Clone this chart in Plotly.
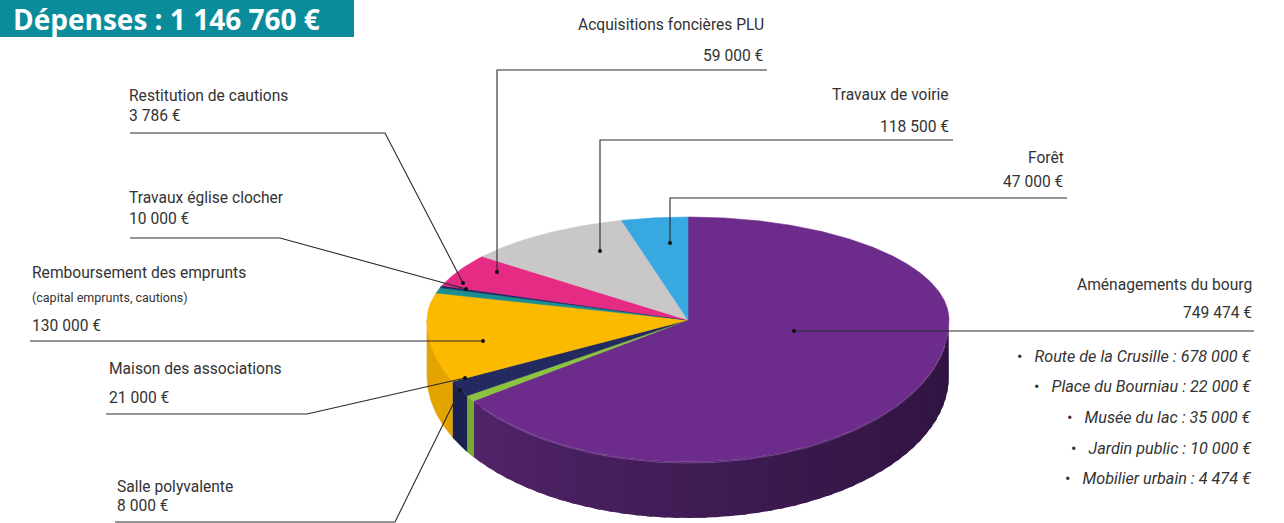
import numpy as np
import plotly.graph_objects as go

# ---------------- data ----------------
title_text = "Dépenses : 1 146 760 €"
categories = ["Aménagements du bourg", "Salle polyvalente", "Maison des associations",
              "Remboursement des emprunts", "Travaux église clocher", "Restitution de cautions",
              "Acquisitions foncières PLU", "Travaux de voirie", "Forêt"]
values = [749474, 8000, 21000, 130000, 10000, 3786, 59000, 118500, 47000]
value_labels = ["749 474 €", "8 000 €", "21 000 €", "130 000 €", "10 000 €",
                "3 786 €", "59 000 €", "118 500 €", "47 000 €"]
detail_items = ["Route de la Crusille", "Place du Bourniau", "Musée du lac",
                "Jardin public", "Mobilier urbain"]
detail_values = ["678 000 €", "22 000 €", "35 000 €", "10 000 €", "4 474 €"]
sub_note = "(capital emprunts, cautions)"

# ---------------- styles ----------------
top_colors = ["#6D2C8B", "#8CC43F", "#232A60", "#FBBA00", "#1B8E91",
              "#1E2A5C", "#E52B84", "#C9C7C7", "#38A8E0"]
side_colors = ["#46205C", "#76AA30", "#1A2050", "#E3A400", "#157477",
               "#18224A", "#B81F69", "#A8A6A6", "#2D8CBD"]
purple_side_right = "#2F1440"
purple_side_left = "#52246B"

CX, CY, A, BT, BB, DEPTH = 688.0, 320.0, 261.0, 103.0, 142.0, 56.0
FONT = "Roboto, Liberation Sans, sans-serif"
FS = 15.6
LINE_COLOR = "#2a2a2a"


def rim(theta_deg, dy=0.0):
    t = np.radians(theta_deg)
    c = np.cos(t)
    x = CX + A * np.sin(t)
    y = CY - np.where(c > 0, BT, BB) * c + dy
    return x, y


def hex_to_rgb(h):
    h = h.lstrip("#")
    return tuple(int(h[i:i + 2], 16) for i in (0, 2, 4))


def mix(c1, c2, f):
    a, b = hex_to_rgb(c1), hex_to_rgb(c2)
    return "rgb(%d,%d,%d)" % tuple(round(a[i] + (b[i] - a[i]) * f) for i in range(3))


fig = go.Figure()
total = float(sum(values))
bounds = np.concatenate([[0.0], np.cumsum(values) / total * 360.0])


def add_poly(xs, ys, color, lw=0.6):
    fig.add_trace(go.Scatter(x=list(xs), y=list(ys), mode="lines", fill="toself",
                             fillcolor=color, line=dict(color=color, width=lw),
                             hoverinfo="skip", showlegend=False))


# ---- sides (front half only: 90..270 deg) ----
for i in range(len(values)):
    lo, hi = max(bounds[i], 90.0), min(bounds[i + 1], 270.0)
    if hi <= lo:
        continue
    if i == 0:
        edges = np.linspace(lo, hi, int((hi - lo) / 3) + 2)
    else:
        edges = np.array([lo, hi])
    for j in range(len(edges) - 1):
        a0 = edges[j]
        a1 = edges[j + 1] + (1.2 if (i == 0 and j < len(edges) - 2) else 0.0)
        th = np.linspace(a0, a1, 30)
        xt, yt = rim(th)
        xb, yb = rim(th, DEPTH)
        if i == 0:
            f = (0.5 * (edges[j] + edges[j + 1]) - 90.0) / (hi - 90.0)
            col = mix(purple_side_right, purple_side_left, f ** 1.5)
            add_poly(np.concatenate([xt, xb[::-1]]), np.concatenate([yt, yb[::-1]]), col, lw=0)
        else:
            add_poly(np.concatenate([xt, xb[::-1]]), np.concatenate([yt, yb[::-1]]), side_colors[i])

# ---- top faces ----
for i in range(len(values)):
    th = np.linspace(bounds[i], bounds[i + 1], max(3, int((bounds[i + 1] - bounds[i]) * 2)))
    xr, yr = rim(th)
    add_poly(np.concatenate([[CX], xr, [CX]]), np.concatenate([[CY], yr, [CY]]), top_colors[i])

# subtle highlight along front rim
th = np.linspace(100, 232, 120)
xr, yr = rim(th)
fig.add_trace(go.Scatter(x=xr, y=yr + 1, mode="lines", line=dict(color="rgba(150,100,180,0.55)", width=1.2),
                         hoverinfo="skip", showlegend=False))

# ---------------- labels layout ----------------
label_layout = {
    "Aménagements du bourg": dict(x=1254, anchor="right", yt=285, yv=313,
                                   path=[(1254, 331), (794, 331)]),
    "Salle polyvalente": dict(x=115, anchor="left", yt=487, yv=506,
                              path=[(115, 522), (395, 522), (460, 390)]),
    "Maison des associations": dict(x=107, anchor="left", yt=369, yv=398,
                                    path=[(106, 414), (307, 414), (465, 378)]),
    "Remboursement des emprunts": dict(x=30, anchor="left", yt=273, yv=326,
                                       path=[(30, 341), (483, 341)]),
    "Travaux église clocher": dict(x=127, anchor="left", yt=198, yv=219,
                                   path=[(130, 238), (280, 238), (466, 289)]),
    "Restitution de cautions": dict(x=127, anchor="left", yt=96, yv=116,
                                    path=[(130, 133), (385, 133), (463, 283)]),
    "Acquisitions foncières PLU": dict(x=766, anchor="right", yt=25, yv=56,
                                       path=[(767, 70), (497, 70), (497, 272)]),
    "Travaux de voirie": dict(x=951, anchor="right", yt=95, yv=127,
                              path=[(953, 140), (600, 140), (600, 251)]),
    "Forêt": dict(x=1066, anchor="right", yt=158, yv=182,
                  path=[(1067, 198), (670, 198), (670, 243)]),
}

annotations = []
dots_x, dots_y = [], []
for cat, val in zip(categories, value_labels):
    L = label_layout[cat]
    px = [p[0] for p in L["path"]]
    py = [p[1] for p in L["path"]]
    fig.add_trace(go.Scatter(x=px, y=py, mode="lines", line=dict(color=LINE_COLOR, width=1.1),
                             hoverinfo="skip", showlegend=False))
    dots_x.append(px[-1])
    dots_y.append(py[-1])
    for txt, yy in ((cat, L["yt"]), (val, L["yv"])):
        annotations.append(dict(x=L["x"], y=yy, xref="x", yref="y", text=txt, showarrow=False,
                                xanchor=L["anchor"], yanchor="middle",
                                font=dict(family=FONT, size=FS, color="#333333")))

annotations.append(dict(x=30, y=297, xref="x", yref="y", text=sub_note, showarrow=False,
                        xanchor="left", yanchor="middle",
                        font=dict(family=FONT, size=12.5, color="#333333")))

detail_y = [356, 386, 417, 448, 478]
for item, v, yy in zip(detail_items, detail_values, detail_y):
    annotations.append(dict(x=1254, y=yy, xref="x", yref="y",
                            text="•   <i>%s : %s</i>" % (item, v), showarrow=False,
                            xanchor="right", yanchor="middle",
                            font=dict(family=FONT, size=16.2, color="#333333")))

fig.add_trace(go.Scatter(x=dots_x, y=dots_y, mode="markers",
                         marker=dict(color="#111111", size=4), hoverinfo="skip", showlegend=False))

# title banner
annotations.append(dict(x=12, y=19, xref="x", yref="y", text="<b>%s</b>" % title_text,
                        showarrow=False, xanchor="left", yanchor="middle", borderpad=0,
                        font=dict(family="Open Sans, Noto Sans, sans-serif", size=28, color="white")))

fig.update_layout(
    width=1284, height=523,
    margin=dict(l=0, r=0, t=0, b=0),
    paper_bgcolor="white", plot_bgcolor="white",
    xaxis=dict(range=[0, 1284], visible=False, fixedrange=True),
    yaxis=dict(range=[523, 0], visible=False, fixedrange=True),
    shapes=[dict(type="rect", xref="x", yref="y", x0=0, x1=354, y0=0, y1=37,
                 fillcolor="#0A8C9B", line=dict(width=0), layer="below")],
    annotations=annotations,
    hovermode=False,
    showlegend=False,
)

fig.write_html("out.html", config={"displayModeBar": False},
               post_script="document.body.style.margin='0';document.body.style.overflow='hidden';")
